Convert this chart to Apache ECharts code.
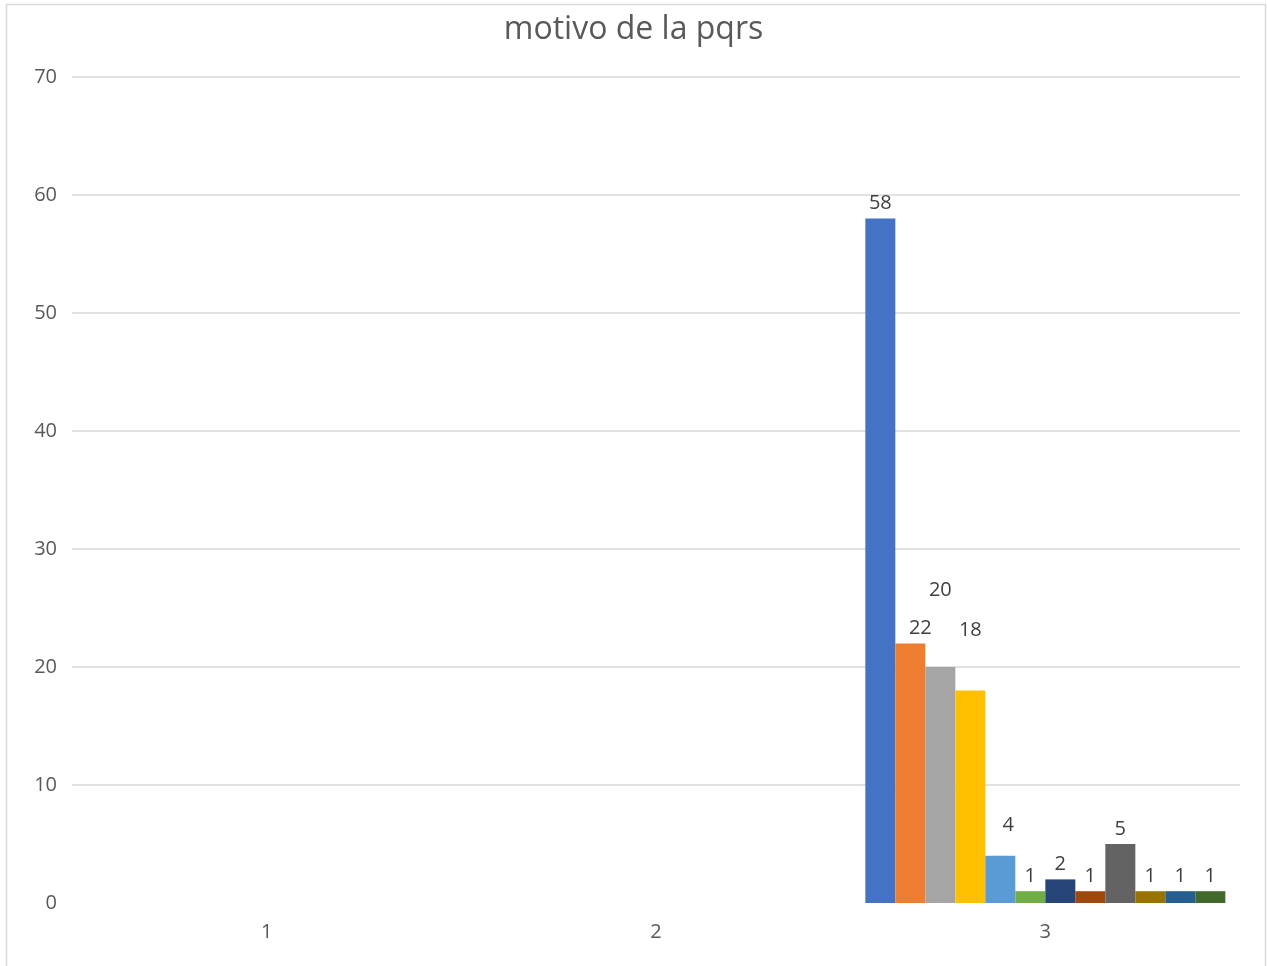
<!DOCTYPE html>
<html>
<head>
<meta charset="utf-8">
<title>motivo de la pqrs</title>
<script src="https://cdn.jsdelivr.net/npm/echarts@6/dist/echarts.min.js"></script>
<style>
  html, body { margin: 0; padding: 0; background: #fff; }
  #chart { width: 1267px; height: 966px; }
</style>
</head>
<body>
<div id="chart"></div>
<script>
// categorias del eje x
const categorias = ['1', '2', '3']
// valores de cada serie (solo la categoria 3 tiene datos)
const valoresCat3 = [58, 22, 20, 18, 4, 1, 2, 1, 5, 1, 1, 1]
// eje y
const yMin = 0
const yMax = 70
const yIntervalo = 10

const colores = ['#4472C4', '#ED7D31', '#A5A5A5', '#FFC000', '#5B9BD5', '#70AD47',
  '#264478', '#9E480E', '#636363', '#997300', '#255E91', '#43682B']

// algunas etiquetas estan movidas a mano en el original
const desplazamientos = { 1: [10, 0], 2: [0, -62], 3: [0, -45], 4: [8, -16] }

const series = valoresCat3.map((v, i) => {
  const data = categorias.map((c, j) => (j === 2 ? v : null))
  return {
    name: 'Serie ' + (i + 1),
    type: 'bar',
    barWidth: 30,
    barGap: '0%',
    itemStyle: { color: colores[i] },
    label: {
      show: true,
      position: 'top',
      distance: 5,
      offset: desplazamientos[i] || [0, 0],
      color: '#404040',
      fontSize: 20,
      fontFamily: 'Open Sans'
    },
    data: data
  }
})

const myChart = echarts.init(document.getElementById('chart'))
myChart.setOption({
  animation: false,
  backgroundColor: '#fff',
  title: {
    text: 'motivo de la pqrs',
    left: 'center',
    top: 9,
    textStyle: { color: '#595959', fontSize: 32, fontWeight: 'normal', fontFamily: 'Open Sans' }
  },
  graphic: [{
    type: 'rect',
    shape: { x: 6.5, y: 4.5, width: 1259, height: 970 },
    style: { fill: 'none', stroke: '#d9d9d9', lineWidth: 1.5 },
    silent: true
  }],
  grid: { left: 72, right: 27, top: 77, bottom: 63 },
  xAxis: {
    type: 'category',
    data: categorias,
    axisLine: { show: false },
    axisTick: { show: false },
    axisLabel: { color: '#595959', fontSize: 20, margin: 19, fontFamily: 'Open Sans' }
  },
  yAxis: {
    type: 'value',
    min: yMin,
    max: yMax,
    interval: yIntervalo,
    axisLine: { show: false },
    axisTick: { show: false },
    axisLabel: { color: '#595959', fontSize: 20, margin: 15, fontFamily: 'Open Sans' },
    splitLine: { showMinLine: false, lineStyle: { color: '#d9d9d9', width: 1.5 } }
  },
  series: series
})
</script>
</body>
</html>
